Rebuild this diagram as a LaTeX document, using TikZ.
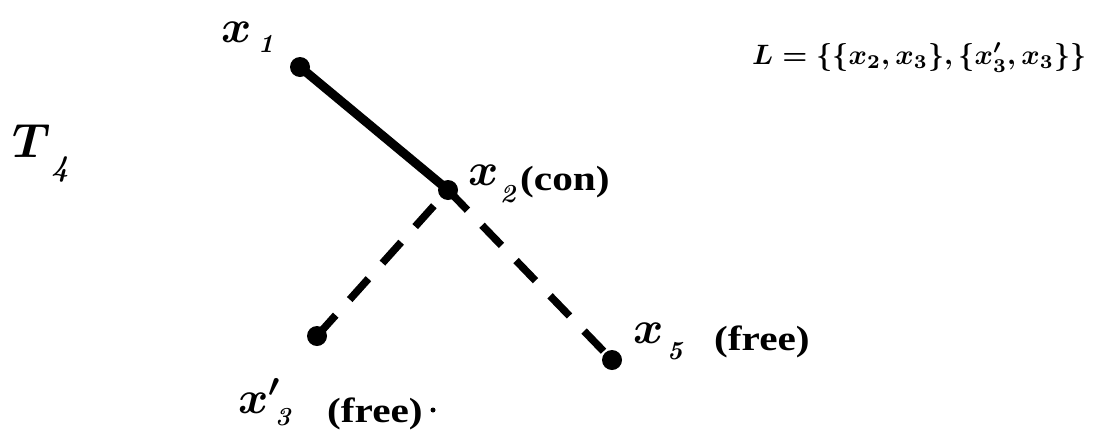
\RequirePackage{fix-cm}
\documentclass[tikz,border=0pt]{standalone}
\usepackage{amsmath}
\usepackage{graphicx}
\usepackage[no-math]{fontspec}
\setmainfont{Liberation Serif}
\usetikzlibrary{backgrounds}
\newcommand{\tagtext}[1]{\scalebox{1.18}[1]{#1}}
\begin{document}
\begin{tikzpicture}[x=1pt,y=-1pt,
  dot/.style={circle, fill=black, inner sep=0pt, minimum size=20pt},
  smalldot/.style={circle, fill=black, inner sep=0pt, minimum size=5pt},
  solidedge/.style={line width=9pt},
  dashedge/.style={line width=7.5pt, dash pattern=on 28pt off 21pt},
  var/.style={font=\fontsize{46}{46}\selectfont\boldmath, inner sep=0pt, anchor=base west},
  sub/.style={font=\fontsize{26}{26}\selectfont\boldmath, inner sep=0pt, anchor=base west},
  tag/.style={font=\fontsize{35}{35}\selectfont\bfseries, inner sep=0pt, anchor=base west},
  tname/.style={font=\fontsize{48}{48}\selectfont\boldmath, inner sep=0pt, anchor=base west},
  tsub/.style={font=\fontsize{30}{30}\selectfont\boldmath, inner sep=0pt, anchor=base west}]
\useasboundingbox (0,0) rectangle (1094,429);
% vertices
\node[dot] (x1) at (300,67) {};
\node[dot] (x2) at (448,190) {};
\node[dot] (x3p) at (317,336) {};
\node[dot] (x5) at (612,360) {};
% edges
\begin{scope}[on background layer]
\draw[solidedge] (x1.center) -- (x2.center);
\draw[dashedge] (x2.center) -- (x5.center);
\draw[dashedge] (x3p.center) -- (x2.center);
\end{scope}
% labels
\node[var] (lx1) at (221,42) {$x$};
\node[sub] (lx1s) at (258,52) {$\mathit{1}$};
\node[var] (lx2) at (468,185) {$x$};
\node[sub] (lx2s) at (500,202) {$\mathit{2}$};
\node[tag] (lcon) at (520,190) {\tagtext{(con)}};
\node[var] (lx5) at (633,343) {$x$};
\node[sub] (lx5s) at (667,359) {$\mathit{5}$};
\node[tag] (lfree5) at (714,350) {\tagtext{(free)}};
\node[var] (lx3) at (238,413) {$x'$};
\node[sub] (lx3s) at (275,425) {$\mathit{3}$};
\node[tag] (lfree3) at (327,422) {\tagtext{(free)}};
\node[smalldot] (stray) at (433,410) {};
\node[tname] (T) at (12,157) {$T$};
\node[tsub] (T4) at (51,176) {$\mathit{4}$};
\node[anchor=base west, inner sep=0pt] (L) at (752,64)
  {\resizebox{334pt}{!}{\boldmath$L=\{\{x_2,x_3\},\{x'_3,x_3\}\}$}};
\end{tikzpicture}
\end{document}
